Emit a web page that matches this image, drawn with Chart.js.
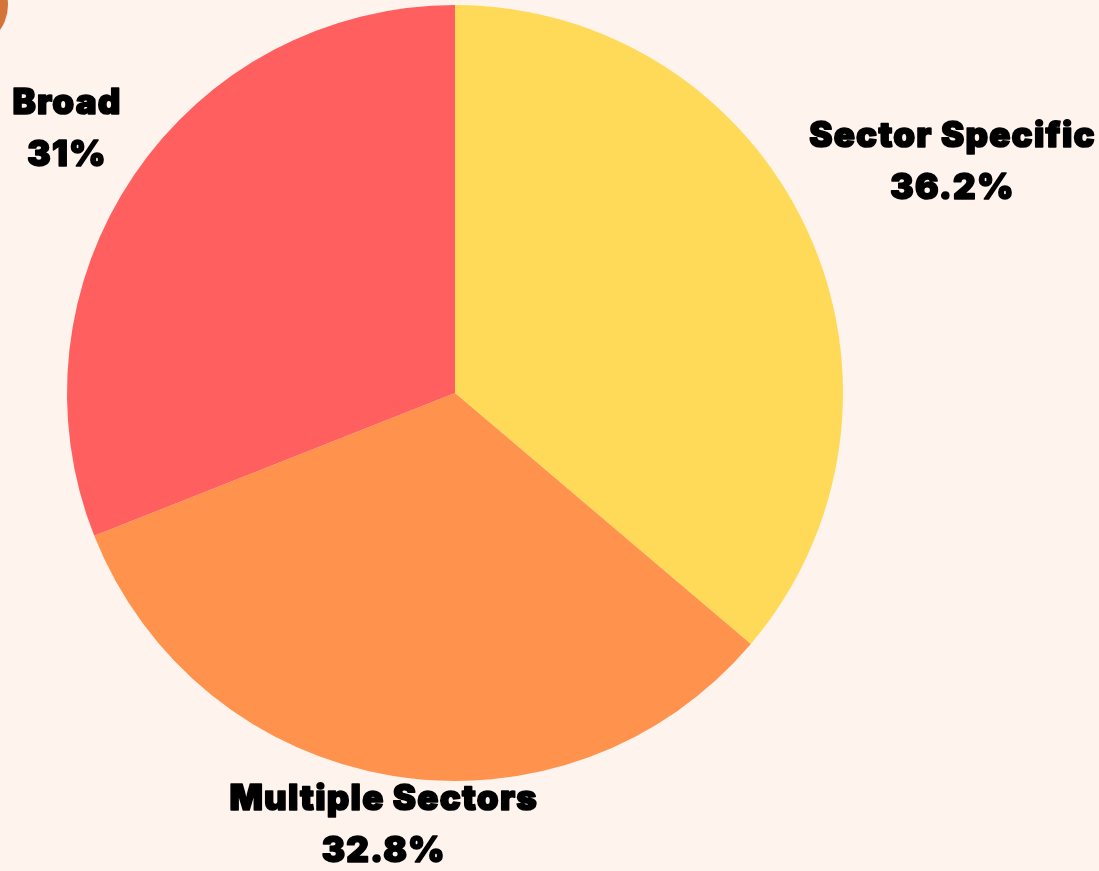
<!DOCTYPE html>
<html>
<head>
<meta charset="utf-8">
<script src="https://cdn.jsdelivr.net/npm/chart.js@4.4.1/dist/chart.umd.min.js"></script>
<style>
  html, body { margin: 0; padding: 0; background: #fff3ee; overflow: hidden; }
  .wrap { position: relative; width: 1099px; height: 871px; }
  .blob { position: absolute; left: -78px; top: -38px; width: 86px; height: 86px; border-radius: 50%; background: #d4733a; }
  canvas { position: absolute; left: 0; top: 0; }
</style>
</head>
<body>
<div class="wrap">
  <div class="blob"></div>
  <canvas id="pieChart" width="1099" height="871"></canvas>
</div>
<script>
// slices, clockwise from 12 o'clock
var categories = ['Sector Specific', 'Multiple Sectors', 'Broad'];
var shares = [36.2, 32.8, 31];
var colors = ['#ffda58', '#ff924c', '#ff5f5e'];

// how far out each label sits, as a multiple of the radius
var labelDist = [1.413, 1.129, 1.209];

var sliceLabels = {
    id: 'sliceLabels',
    afterDatasetsDraw: function(chart) {
        var ctx = chart.ctx;
        var arcs = chart.getDatasetMeta(0).data;
        ctx.save();
        ctx.fillStyle = '#000';
        ctx.strokeStyle = '#000';
        ctx.lineWidth = 1.6;
        ctx.lineJoin = 'round';
        ctx.font = '900 35px Inter, "DejaVu Sans", sans-serif';
        ctx.letterSpacing = '1.2px';
        ctx.textAlign = 'center';
        ctx.textBaseline = 'middle';
        arcs.forEach(function(arc, i) {
            var mid = (arc.startAngle + arc.endAngle) / 2;
            var r = arc.outerRadius * labelDist[i];
            var x = arc.x + Math.cos(mid) * r;
            var y = arc.y + Math.sin(mid) * r;
            // heavier look, like a black weight
            ctx.strokeText(categories[i], x, y - 26);
            ctx.fillText(categories[i], x, y - 26);
            ctx.strokeText(shares[i] + '%', x, y + 26);
            ctx.fillText(shares[i] + '%', x, y + 26);
        });
        ctx.restore();
    }
};

var canvas = document.getElementById('pieChart');
var pieChart = new Chart(canvas, {
    type: 'pie',
    data: {
        labels: categories,
        datasets: [{
            data: shares,
            backgroundColor: colors,
            borderWidth: 0
        }]
    },
    options: {
        responsive: false,
        animation: false,
        layout: {
            padding: { left: 67, right: 256, top: 5, bottom: 90 }
        },
        plugins: {
            legend: { display: false },
            tooltip: { enabled: false }
        }
    },
    plugins: [sliceLabels]
});
</script>
</body>
</html>
